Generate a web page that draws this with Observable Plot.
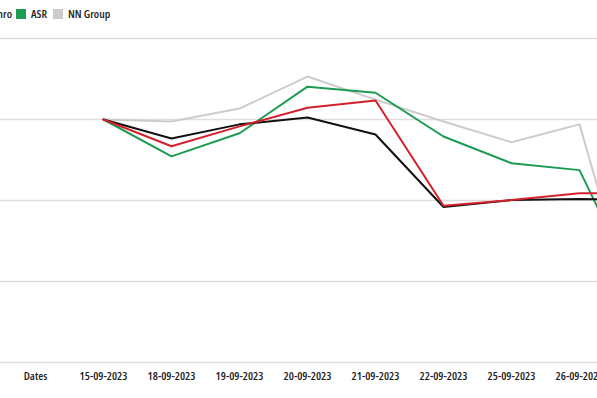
<!DOCTYPE html>
<html>
<head>
<meta charset="utf-8">
<script src="https://cdn.jsdelivr.net/npm/d3@7"></script>
<script src="https://cdn.jsdelivr.net/npm/@observablehq/plot@0.6"></script>
<style>
  html, body { margin: 0; padding: 0; background: #fff; }
  #wrap { position: relative; width: 597px; height: 398px; overflow: hidden; font-family: "Open Sans", sans-serif; font-stretch: 75%; font-weight: 600; }
  .legend { position: absolute; top: 6px; display: flex; align-items: center; font-size: 11.5px; color: #222; white-space: nowrap; }
  .legend .sw { display: inline-block; width: 10px; height: 10px; margin-right: 5px; }
  .legend .it { display: flex; align-items: center; margin-right: 6px; }
  #chart { position: absolute; left: 0; top: 0; }
  #chart svg { max-width: none !important; }
  #chart svg text { font-stretch: 75%; font-weight: 600; }
</style>
</head>
<body>
<div id="wrap">
  <div id="chart"></div>
  <div class="legend" id="legA" style="right:585px"></div>
  <div class="legend" id="legB" style="left:16px"></div>
</div>
<script>
const dates = ["Dates", "15-09-2023", "18-09-2023", "19-09-2023", "20-09-2023", "21-09-2023", "22-09-2023", "25-09-2023", "26-09-2023", "27-09-2023"];
const tickDates = ["Dates", "15-09-2023", "18-09-2023", "19-09-2023", "20-09-2023", "21-09-2023", "22-09-2023", "25-09-2023", "26-09-2023"];
const seriesNames = ["Aegon", "ABN Amro", "ASR", "NN Group"];
const seriesColors = ["#111111", "#d4202c", "#1b9c52", "#cccccc"];
// values per date (from 15-09 onward), percent change
const aegon    = [0, -0.47, -0.12, 0.05, -0.37, -2.16, -1.99, -1.96, -1.99];
const abnAmro  = [0, -0.66, -0.17, 0.29, 0.47, -2.13, -1.99, -1.82, -1.82];
const asr      = [0, -0.91, -0.34, 0.81, 0.66, -0.42, -1.08, -1.25, -4.71];
const nnGroup  = [0, -0.05, 0.27, 1.06, 0.49, -0.05, -0.56, -0.12, -5.95];
const gridTicks = [2, 0, -2, -4, -6];

const valueDates = dates.slice(1);
const all = [aegon, abnAmro, asr, nnGroup];
const rows = [];
// draw order: NN Group behind, then ASR, Aegon, ABN Amro
[3, 2, 0, 1].forEach(si => {
  all[si].forEach((v, i) => rows.push({series: seriesNames[si], date: valueDates[i], value: v}));
});

const W = 700;
const chart = Plot.plot({
  width: W,
  height: 398,
  marginTop: 38,
  marginBottom: 36,
  marginLeft: 0,
  marginRight: 0,
  style: {fontFamily: '"Open Sans", sans-serif', fontSize: "11.5px", color: "#222", background: "#fff", maxWidth: "none"},
  x: {type: "point", domain: dates, range: [34, 34 + 9 * 68.3], padding: 0, label: null},
  y: {domain: [-6, 2], axis: null},
  color: {domain: seriesNames, range: seriesColors},
  marks: [
    Plot.ruleY(gridTicks, {stroke: "#dedede", strokeWidth: 1.5}),
    Plot.axisX(tickDates, {tickSize: 0, tickPadding: 9, fill: "#222", label: null}),
    Plot.line(rows, {x: "date", y: "value", z: "series", stroke: "series", strokeWidth: 2, curve: "linear"})
  ]
});
document.getElementById("chart").appendChild(chart);

function buildLegend(el, idxs) {
  idxs.forEach(i => {
    const it = document.createElement("span");
    it.className = "it";
    const sw = document.createElement("span");
    sw.className = "sw";
    sw.style.background = seriesColors[i];
    it.appendChild(sw);
    it.appendChild(document.createTextNode(seriesNames[i]));
    el.appendChild(it);
  });
}
buildLegend(document.getElementById("legA"), [1]);
buildLegend(document.getElementById("legB"), [2, 3]);
document.querySelector("#legA .it:last-child").style.marginRight = "0";
</script>
</body>
</html>
